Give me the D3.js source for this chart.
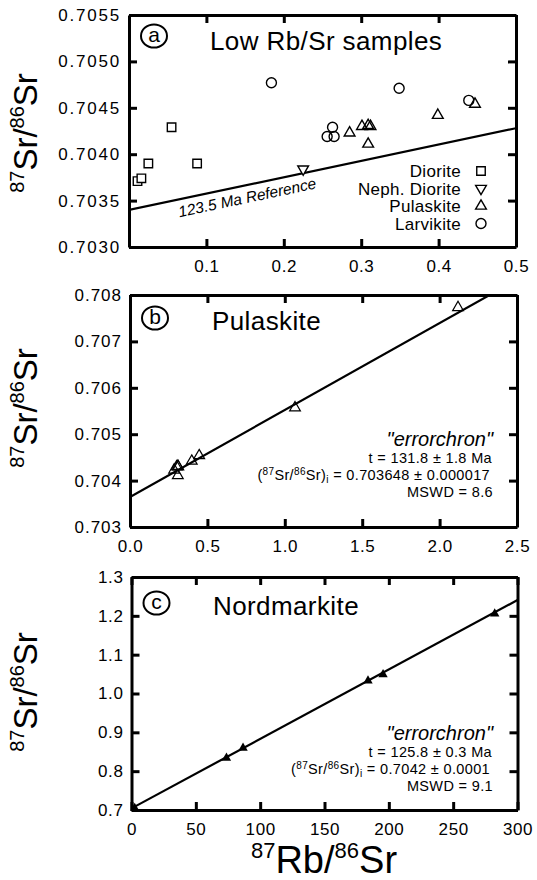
<!DOCTYPE html>
<html><head><meta charset="utf-8">
<script src="https://cdn.jsdelivr.net/npm/d3@7"></script>
<style>
html,body{margin:0;padding:0;background:#fff;}
text{font-family:"Liberation Sans",Arial,Helvetica,sans-serif;fill:#000;}
</style></head>
<body>
<svg id="chart" width="537" height="880"></svg>
<script>
// ---------- Panel a data (Low Rb/Sr samples) ----------
const dioriteRbSr = [0.011, 0.016, 0.025, 0.055, 0.088];
const dioriteSrSr = [0.70371, 0.70374, 0.70390, 0.70429, 0.70390];
const nephDioriteRbSr = [0.225];
const nephDioriteSrSr = [0.70384];
const pulaskiteRbSr = [0.285, 0.301, 0.309, 0.312, 0.309, 0.399, 0.447];
const pulaskiteSrSr = [0.70423, 0.70430, 0.70431, 0.70430, 0.70411, 0.70442, 0.70454];
const larvikiteRbSr = [0.184, 0.256, 0.265, 0.263, 0.349, 0.439];
const larvikiteSrSr = [0.70477, 0.70419, 0.70419, 0.70429, 0.70471, 0.70458];
const referenceLineX = [0, 0.5];
const referenceLineY = [0.70340, 0.70428];
const aXTicks = [0.1, 0.2, 0.3, 0.4, 0.5];
const aYTicks = [0.7030, 0.7035, 0.7040, 0.7045, 0.7050, 0.7055];
const legendLabels = ["Diorite", "Neph. Diorite", "Pulaskite", "Larvikite"];

// ---------- Panel b data (Pulaskite) ----------
const pulaskiteAllRbSr = [0.285, 0.301, 0.309, 0.312, 0.309, 0.399, 0.447, 1.066, 2.119];
const pulaskiteAllSrSr = [0.70423, 0.70430, 0.70431, 0.70430, 0.70411, 0.70442, 0.70454, 0.70557, 0.70773];
const errorchronBX = [0, 2.5];
const errorchronBY = [0.703648, 0.708331];
const bXTicks = [0.0, 0.5, 1.0, 1.5, 2.0, 2.5];
const bYTicks = [0.703, 0.704, 0.705, 0.706, 0.707, 0.708];

// ---------- Panel c data (Nordmarkite) ----------
const nordmarkiteRbSr = [2.5, 73.8, 86.7, 183.8, 195.5, 282.3];
const nordmarkiteSrSr = [0.7045, 0.834, 0.8596, 1.033, 1.049, 1.2055];
const errorchronCX = [0, 300];
const errorchronCY = [0.7042, 1.2406];
const cXTicks = [0, 50, 100, 150, 200, 250, 300];
const cYTicks = [0.7, 0.8, 0.9, 1.0, 1.1, 1.2, 1.3];

const svg = d3.select("#chart");
const FONT = '"Liberation Sans",Arial,Helvetica,sans-serif';

function makePanel(cfg) {
  const g = svg.append("g");
  const x = d3.scaleLinear().domain(cfg.xDomain).range([cfg.left, cfg.right]);
  const y = d3.scaleLinear().domain(cfg.yDomain).range([cfg.bottom, cfg.top]);
  const clipId = "clip" + cfg.id;
  svg.append("clipPath").attr("id", clipId).append("rect")
    .attr("x", cfg.left).attr("y", cfg.top)
    .attr("width", cfg.right - cfg.left).attr("height", cfg.bottom - cfg.top);

  const styleAxis = (sel, showText) => {
    sel.select(".domain").attr("stroke", "#000").attr("stroke-width", 3);
    sel.selectAll(".tick line").attr("stroke", "#000").attr("stroke-width", 3);
    sel.selectAll(".tick text").attr("font-family", FONT).attr("font-size", 17)
       .attr("letter-spacing", cfg.letterSpacing || 0.6).attr("fill", "#000");
    if (!showText) sel.selectAll(".tick text").remove();
  };
  g.append("g").attr("transform", `translate(0,${cfg.bottom})`)
    .call(d3.axisBottom(x).tickValues(cfg.xTicks).tickFormat(cfg.xFormat)
      .tickSizeInner(-8).tickSizeOuter(0).tickPadding(13))
    .call(s => styleAxis(s, true));
  g.append("g").attr("transform", `translate(0,${cfg.top})`)
    .call(d3.axisTop(x).tickValues(cfg.xTicks).tickFormat("")
      .tickSizeInner(-8).tickSizeOuter(0))
    .call(s => styleAxis(s, false));
  g.append("g").attr("transform", `translate(${cfg.left},0)`)
    .call(d3.axisLeft(y).tickValues(cfg.yTicks).tickFormat(cfg.yFormat)
      .tickSizeInner(-8).tickSizeOuter(0).tickPadding(8))
    .call(s => styleAxis(s, true))
    .call(s => s.selectAll(".tick text").attr("letter-spacing", cfg.yLetterSpacing || 0.6));
  g.append("g").attr("transform", `translate(${cfg.right},0)`)
    .call(d3.axisRight(y).tickValues(cfg.yTicks).tickFormat("")
      .tickSizeInner(-8).tickSizeOuter(0))
    .call(s => styleAxis(s, false));

  // circled panel letter
  g.append("ellipse").attr("cx", cfg.left + 25).attr("cy", cfg.letterY)
    .attr("rx", 13).attr("ry", 11.5).attr("fill", "none").attr("stroke", "#000").attr("stroke-width", 2);
  g.append("text").attr("x", cfg.left + 25).attr("y", cfg.letterY + 6)
    .attr("text-anchor", "middle").attr("font-size", 21).text(cfg.letter);
  // title
  g.append("text").attr("x", cfg.titleX).attr("y", cfg.titleY)
    .attr("font-size", 26).attr("letter-spacing", 0.4).text(cfg.title);

  // y title
  const yt = g.append("text").attr("transform", `translate(37,${cfg.yTitleY}) rotate(-90)`)
    .attr("text-anchor", "middle").attr("font-size", 33);
  yt.append("tspan").attr("font-size", 20).attr("dy", -13).text("87");
  yt.append("tspan").attr("dy", 13).text("Sr/");
  yt.append("tspan").attr("font-size", 20).attr("dy", -13).text("86");
  yt.append("tspan").attr("dy", 13).text("Sr");

  return {g, x, y, clipId};
}

function symbolPath(type, size) {
  return d3.symbol().type(type).size(size)();
}

// ================= Panel a =================
const A = makePanel({id: "a", left: 129, right: 516, top: 15, bottom: 247,
  xDomain: [0, 0.5], yDomain: [0.7030, 0.7055], xTicks: aXTicks, yTicks: aYTicks,
  xFormat: d3.format(".1f"), yFormat: d3.format(".4f"), yLetterSpacing: 1.8,
  letter: "a", letterY: 36, title: "Low Rb/Sr samples", titleX: 210, titleY: 50, yTitleY: 133});

A.g.append("line").attr("clip-path", `url(#${A.clipId})`)
  .attr("x1", A.x(referenceLineX[0])).attr("y1", A.y(referenceLineY[0]))
  .attr("x2", A.x(referenceLineX[1])).attr("y2", A.y(referenceLineY[1]))
  .attr("stroke", "#000").attr("stroke-width", 2.2);
{
  const f = 0.154;
  const lx = A.x(f), ly = A.y(referenceLineY[0] + (referenceLineY[1]-referenceLineY[0]) * f/0.5) + 18;
  const ang = Math.atan2(A.y(referenceLineY[1]) - A.y(referenceLineY[0]), A.x(0.5) - A.x(0)) * 180 / Math.PI;
  A.g.append("text").attr("transform", `translate(${lx},${ly}) rotate(${ang})`)
    .attr("text-anchor", "middle").attr("font-size", 15.5).attr("font-style", "italic")
    .text("123.5 Ma Reference");
}

const sqPath = symbolPath(d3.symbolSquare, 72);
const triPath = symbolPath(d3.symbolTriangle, 50);
const markerStyle = s => s.attr("fill", "#fff").attr("stroke", "#000").attr("stroke-width", 1.4);

A.g.selectAll(".dio").data(dioriteRbSr).join("path")
  .attr("d", sqPath).attr("transform", (d, i) => `translate(${A.x(d)},${A.y(dioriteSrSr[i])})`).call(markerStyle);
A.g.selectAll(".lar").data(larvikiteRbSr).join("circle")
  .attr("cx", d => A.x(d)).attr("cy", (d, i) => A.y(larvikiteSrSr[i])).attr("r", 5).call(markerStyle).attr("fill", "none");
A.g.selectAll(".pul").data(pulaskiteRbSr).join("path")
  .attr("d", triPath).attr("transform", (d, i) => `translate(${A.x(d)},${A.y(pulaskiteSrSr[i])})`).call(markerStyle).attr("fill", "none");
A.g.selectAll(".neph").data(nephDioriteRbSr).join("path")
  .attr("d", triPath).attr("transform", (d, i) => `translate(${A.x(d)},${A.y(nephDioriteSrSr[i])}) rotate(180)`).call(markerStyle);

// legend
const legendSymbols = [
  s => s.append("path").attr("d", sqPath).call(markerStyle),
  s => s.append("path").attr("d", triPath).attr("transform", "rotate(180)").call(markerStyle),
  s => s.append("path").attr("d", triPath).call(markerStyle),
  s => s.append("circle").attr("r", 5).call(markerStyle)
];
legendLabels.forEach((lab, i) => {
  const cy = 171 + i * 17.5;
  A.g.append("text").attr("x", 461).attr("y", cy + 6).attr("text-anchor", "end")
    .attr("font-size", 17).attr("letter-spacing", 0.3).text(lab);
  const sg = A.g.append("g").attr("transform", `translate(481,${cy})`);
  legendSymbols[i](sg);
});

// ================= Panel b =================
const B = makePanel({id: "b", left: 130, right: 517, top: 295, bottom: 527,
  xDomain: [0, 2.5], yDomain: [0.703, 0.708], xTicks: bXTicks, yTicks: bYTicks,
  xFormat: d3.format(".1f"), yFormat: d3.format(".3f"), yLetterSpacing: 1,
  letter: "b", letterY: 318, title: "Pulaskite", titleX: 212, titleY: 330, yTitleY: 408});

B.g.append("line").attr("clip-path", `url(#${B.clipId})`)
  .attr("x1", B.x(errorchronBX[0])).attr("y1", B.y(errorchronBY[0]))
  .attr("x2", B.x(errorchronBX[1])).attr("y2", B.y(errorchronBY[1]))
  .attr("stroke", "#000").attr("stroke-width", 2.2);
B.g.selectAll(".pb").data(pulaskiteAllRbSr).join("path")
  .attr("d", triPath).attr("transform", (d, i) => `translate(${B.x(d)},${B.y(pulaskiteAllSrSr[i])})`)
  .attr("fill", "none").attr("stroke", "#000").attr("stroke-width", 1.2);

function annotation(g, xr, y0, tLine, initLine, mswd) {
  g.append("text").attr("x", xr + 1).attr("y", y0).attr("text-anchor", "end")
    .attr("font-size", 20).attr("font-style", "italic").text("\"errorchron\"");
  g.append("text").attr("x", xr).attr("y", y0 + 17).attr("text-anchor", "end")
    .attr("font-size", 14.5).attr("letter-spacing", 0.35).text(tLine);
  const t = g.append("text").attr("x", xr - 2).attr("y", y0 + 34).attr("text-anchor", "end")
    .attr("font-size", 14.5).attr("letter-spacing", 0.35);
  t.append("tspan").text("(");
  t.append("tspan").attr("font-size", 10).attr("dy", -5).text("87");
  t.append("tspan").attr("dy", 5).text("Sr/");
  t.append("tspan").attr("font-size", 10).attr("dy", -5).text("86");
  t.append("tspan").attr("dy", 5).text("Sr)");
  t.append("tspan").attr("font-size", 10).attr("dy", 3).text("i");
  t.append("tspan").attr("dy", -3).text(initLine);
  g.append("text").attr("x", xr + 1).attr("y", y0 + 51).attr("text-anchor", "end")
    .attr("font-size", 14.5).attr("letter-spacing", 0.35).text(mswd);
}
annotation(B.g, 492, 446, "t = 131.8 ± 1.8 Ma", " = 0.703648  ± 0.000017", "MSWD = 8.6");

// ================= Panel c =================
const C = makePanel({id: "c", left: 131.5, right: 517.5, top: 577, bottom: 810,
  xDomain: [0, 300], yDomain: [0.7, 1.3], xTicks: cXTicks, yTicks: cYTicks,
  xFormat: d3.format("d"), yFormat: d3.format(".1f"), yLetterSpacing: 0.6,
  letter: "c", letterY: 603, title: "Nordmarkite", titleX: 213, titleY: 615, yTitleY: 692});

C.g.append("line").attr("clip-path", `url(#${C.clipId})`)
  .attr("x1", C.x(errorchronCX[0])).attr("y1", C.y(errorchronCY[0]))
  .attr("x2", C.x(errorchronCX[1])).attr("y2", C.y(errorchronCY[1]))
  .attr("stroke", "#000").attr("stroke-width", 2.2);
const filledTri = symbolPath(d3.symbolTriangle, 38);
C.g.selectAll(".nc").data(nordmarkiteRbSr).join("path")
  .attr("d", filledTri).attr("transform", (d, i) => `translate(${C.x(d)},${C.y(nordmarkiteSrSr[i])})`)
  .attr("fill", "#000");
annotation(C.g, 492, 740, "t = 125.8 ± 0.3 Ma", " = 0.7042 ± 0.0001", "MSWD = 9.1");

// x title
const xt = svg.append("text").attr("x", 324).attr("y", 873).attr("text-anchor", "middle").attr("font-size", 38);
xt.append("tspan").attr("font-size", 22).attr("dy", -15).text("87");
xt.append("tspan").attr("dy", 15).text("Rb/");
xt.append("tspan").attr("font-size", 22).attr("dy", -15).text("86");
xt.append("tspan").attr("dy", 15).text("Sr");
</script>
</body></html>
